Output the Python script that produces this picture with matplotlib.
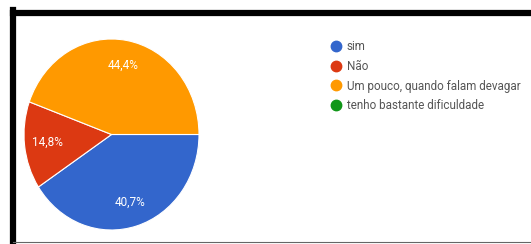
import matplotlib
matplotlib.use("Agg")
import matplotlib.pyplot as plt
from matplotlib.lines import Line2D

plt.rcParams['font.family'] = ['Roboto', 'DejaVu Sans']

# Respostas
labels = ['sim', 'Não', 'Um pouco, quando falam devagar', 'tenho bastante dificuldade']
counts = [11, 4, 12, 0]
colors = ['#3366cc', '#dc3912', '#ff9900', '#109618']

W, H = 531, 244
fig = plt.figure(figsize=(W / 100, H / 100), dpi=100)

# pie area (slightly taller than wide, as in the screenshot)
cx, cy, rx, ry = 111.5, 134.5, 87.5, 95.5
ax = fig.add_axes([(cx - rx) / W, (H - cy - ry) / H, 2 * rx / W, 2 * ry / H])

# draw only non-zero slices, legend keeps all four
vals = [c for c in counts if c > 0]
cols = [colors[i] for i, c in enumerate(counts) if c > 0]
wedges, texts, autotexts = ax.pie(
    vals, colors=cols, startangle=0, counterclock=False,
    autopct=lambda p: f'{p:.1f}%'.replace('.', ','), pctdistance=0.74,
    wedgeprops=dict(edgecolor='white', linewidth=0.8),
    textprops=dict(color='white', fontsize=8.5))
ax.set_aspect('auto')
ax.set_xlim(-1, 1)
ax.set_ylim(-1, 1)

handles = [Line2D([], [], marker='o', linestyle='none', markersize=7.5,
                  markerfacecolor=c, markeredgecolor=c) for c in colors]
fig.legend(handles, labels, loc='upper left', bbox_to_anchor=(330 / W, 1 - 40 / H),
           frameon=False, fontsize=8.4, labelcolor='#555555',
           handletextpad=0.45, labelspacing=0.58, borderaxespad=0, borderpad=0,
           handlelength=1.0)

# screenshot frame
fig.add_artist(Line2D([13 / W, 1], [1 - 13 / H, 1 - 13 / H], color='black', linewidth=4.5,
                      transform=fig.transFigure))
fig.add_artist(Line2D([13 / W, 13 / W], [0, 1 - 10 / H], color='black', linewidth=4.5,
                      transform=fig.transFigure))
fig.add_artist(Line2D([13 / W, 1], [2 / H, 2 / H], color='#666666', linewidth=0.8,
                      transform=fig.transFigure))

fig.savefig('out.png', dpi=100)
